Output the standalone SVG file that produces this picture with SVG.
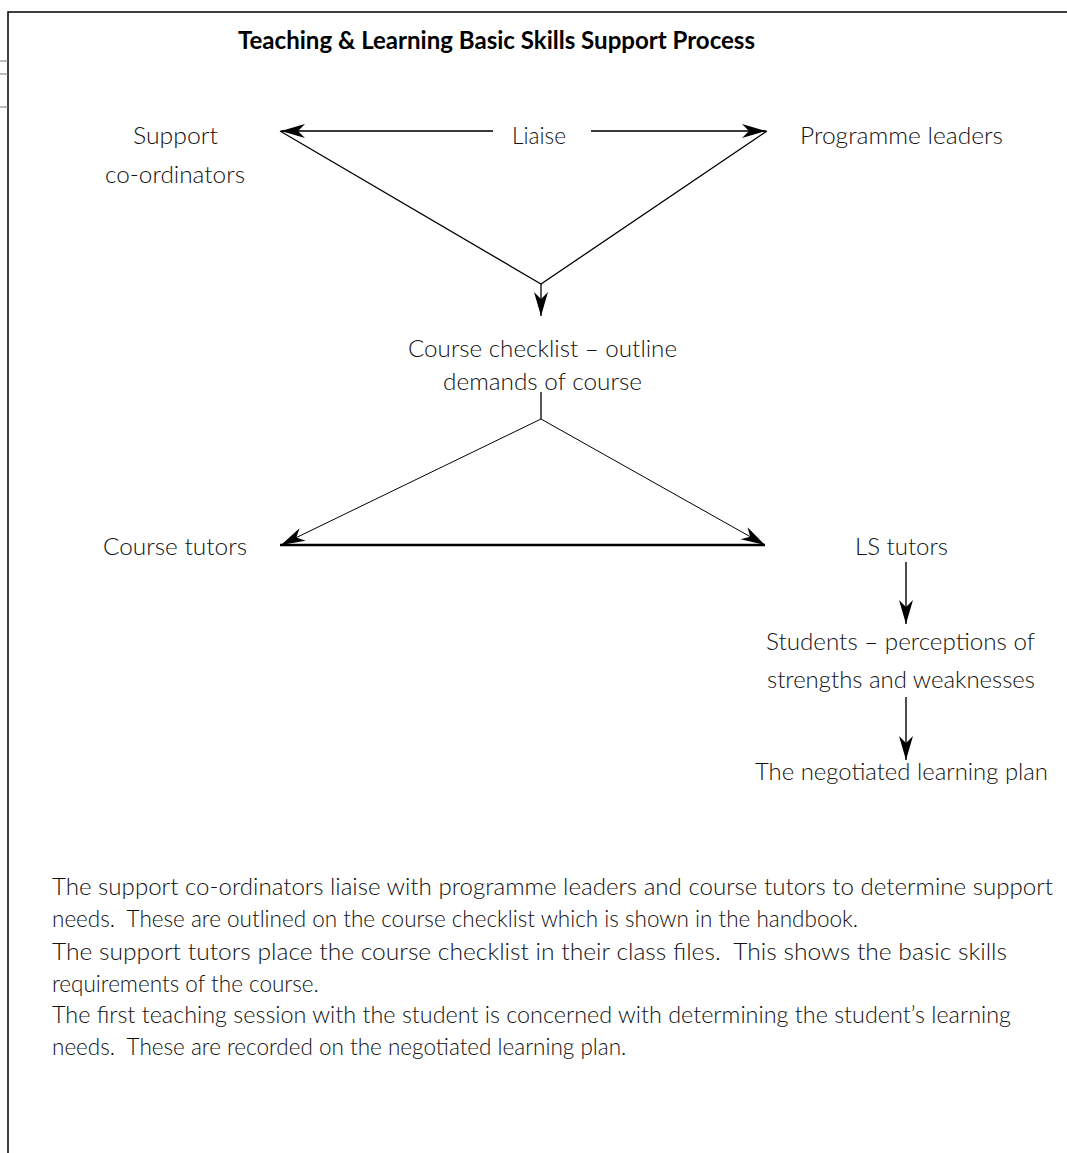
<svg xmlns="http://www.w3.org/2000/svg" width="1067" height="1153" viewBox="0 0 1067 1153">
<style>
text { font-family: Lato, "Open Sans", "DejaVu Sans", sans-serif; font-weight: 300; font-size: 22.5px; fill: #111; }
.title { font-weight: 700; font-size: 24px; fill: #000; }
.para { font-size: 22.5px; }
.gray { stroke: #3a3a3a; stroke-width: 1.8; fill: none; }
.thin { stroke: #000; stroke-width: 1.3; fill: none; }
.hair { stroke: #000; stroke-width: 1; fill: none; }
.thick { stroke: #000; stroke-width: 2.4; fill: none; }
.frame { stroke: #000; stroke-width: 1.5; fill: none; }
.tick { stroke: #777; stroke-width: 1; fill: none; }
</style>
<defs>
<marker id="ah" viewBox="-25 -8 27 16" refX="0" refY="0" markerWidth="27" markerHeight="16" markerUnits="userSpaceOnUse" orient="auto">
<path d="M0,0 L-24,-7 L-17,0 L-24,7 Z" fill="#000"/>
</marker>
</defs>
<rect x="0" y="0" width="1067" height="1153" fill="#fff"/>
<g id="frame">
<path class="frame" d="M8,1153 L8,12 L1067,12"/>
<path class="tick" d="M0,61 L8,61 M0,74 L8,74 M0,107 L8,107"/>
</g>
<g id="title">
<text class="title" x="238" y="49" textLength="517" lengthAdjust="spacingAndGlyphs">Teaching &amp; Learning Basic Skills Support Process</text>
</g>
<g id="connectors">
<line class="gray" x1="493" y1="131" x2="281" y2="131" marker-end="url(#ah)"/>
<line class="gray" x1="591" y1="131" x2="766" y2="131" marker-end="url(#ah)"/>
<polyline class="thin" points="280,131 541,284 767,131"/>
<line class="thin" x1="541" y1="284" x2="541" y2="316" marker-end="url(#ah)"/>
<polyline class="thin" points="541,392 541,419"/>
<line class="hair" x1="541" y1="419" x2="281" y2="545" marker-end="url(#ah)"/>
<line class="hair" x1="541" y1="419" x2="765" y2="545" marker-end="url(#ah)"/>
<line class="thick" x1="280" y1="545" x2="765" y2="545"/>
<line class="gray" x1="906" y1="562" x2="906" y2="624" marker-end="url(#ah)"/>
<line class="gray" x1="906" y1="697" x2="906" y2="760" marker-end="url(#ah)"/>
</g>
<g id="node-support">
<text x="133" y="144" textLength="85" lengthAdjust="spacingAndGlyphs">Support</text>
<text x="105" y="183" textLength="140" lengthAdjust="spacingAndGlyphs">co-ordinators</text>
</g>
<g id="node-liaise">
<text x="512" y="144" textLength="54" lengthAdjust="spacingAndGlyphs">Liaise</text>
</g>
<g id="node-programme">
<text x="800" y="144" textLength="203" lengthAdjust="spacingAndGlyphs">Programme leaders</text>
</g>
<g id="node-checklist">
<text x="408" y="357" textLength="269" lengthAdjust="spacingAndGlyphs">Course checklist – outline</text>
<text x="443" y="390" textLength="199" lengthAdjust="spacingAndGlyphs">demands of course</text>
</g>
<g id="node-course-tutors">
<text x="103" y="555" textLength="144" lengthAdjust="spacingAndGlyphs">Course tutors</text>
</g>
<g id="node-ls-tutors">
<text x="855" y="555" textLength="93" lengthAdjust="spacingAndGlyphs">LS tutors</text>
</g>
<g id="node-students">
<text x="766" y="650" textLength="269" lengthAdjust="spacingAndGlyphs">Students – perceptions of</text>
<text x="767" y="688" textLength="268" lengthAdjust="spacingAndGlyphs">strengths and weaknesses</text>
</g>
<g id="node-plan">
<text x="755" y="780" textLength="293" lengthAdjust="spacingAndGlyphs">The negotiated learning plan</text>
</g>
<g id="description">
<text class="para" x="52" y="895" textLength="1001" lengthAdjust="spacingAndGlyphs">The support co-ordinators liaise with programme leaders and course tutors to determine support</text>
<text class="para" x="52" y="927" xml:space="preserve">needs.  These are outlined on the course checklist which is shown in the handbook.</text>
<text class="para" x="52" y="960" xml:space="preserve" textLength="955" lengthAdjust="spacingAndGlyphs">The support tutors place the course checklist in their class files.  This shows the basic skills</text>
<text class="para" x="52" y="992">requirements of the course.</text>
<text class="para" x="52" y="1023" textLength="959" lengthAdjust="spacingAndGlyphs">The first teaching session with the student is concerned with determining the student’s learning</text>
<text class="para" x="52" y="1055" xml:space="preserve">needs.  These are recorded on the negotiated learning plan.</text>
</g>
</svg>
